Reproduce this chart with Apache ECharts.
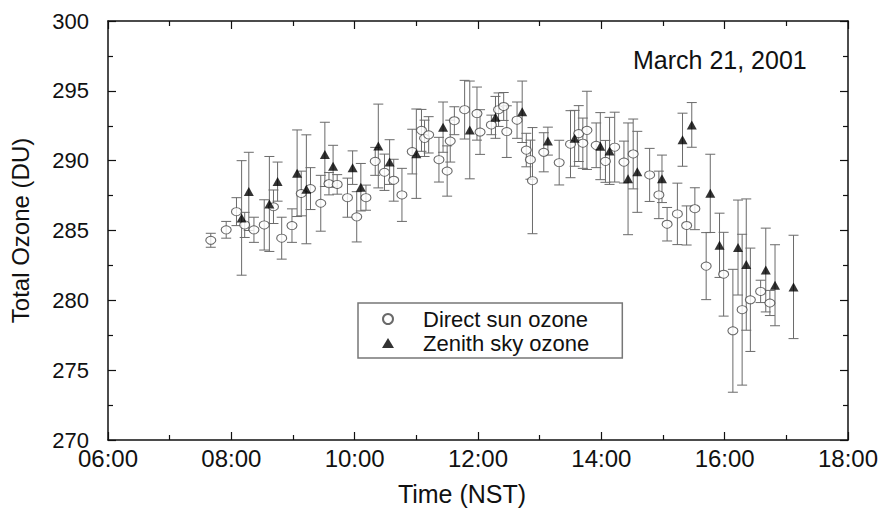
<!DOCTYPE html>
<html>
<head>
<meta charset="utf-8">
<script src="https://cdn.jsdelivr.net/npm/echarts@6/dist/echarts.min.js"></script>
<style>
html,body{margin:0;padding:0;background:#fff;}
#chart{width:884px;height:511px;}
</style>
</head>
<body>
<div id="chart"></div>
<script>
// Direct sun ozone (open circles)
const sunTime = ['07:40','07:55','08:05','08:13','08:22','08:32','08:41','08:49','08:59','09:08',
  '09:17','09:27','09:35','09:43','09:53','10:02','10:11','10:20','10:29','10:38',
  '10:46','10:56','11:05','11:08','11:12','11:22','11:30','11:33','11:37','11:47',
  '11:59','12:02','12:13','12:20','12:25','12:28','12:38','12:47','12:51','12:53',
  '13:04','13:19','13:30','13:38','13:42','13:46','13:55','14:04','14:13','14:22',
  '14:31','14:47','14:56','15:04','15:14','15:23','15:31','15:42','15:59','16:08',
  '16:17','16:25','16:35','16:44'];
const sunOzone = [284.3,285.05,286.35,285.4,285.05,285.4,286.7,284.45,285.35,287.65,
  288.0,286.95,288.35,288.3,287.35,285.98,287.35,289.95,289.17,288.6,
  287.55,290.65,292.17,291.6,291.85,290.07,289.26,291.4,292.86,293.65,
  293.37,292.05,292.56,293.65,293.88,292.08,292.9,290.76,290.07,288.57,
  290.6,289.86,291.18,291.94,291.25,292.17,291.1,289.95,290.97,289.9,
  290.48,288.98,287.55,285.45,286.19,285.36,286.56,282.45,281.87,277.82,
  279.33,280.04,280.64,279.81];
const sunErr = [0.5,0.6,1.0,0.9,0.9,1.8,1.2,1.5,1.2,1.6,
  1.5,2.0,0.8,0.7,1.4,1.8,0.9,1.0,1.3,1.5,
  1.9,1.6,1.5,1.3,1.3,1.6,1.8,1.5,1.0,2.1,
  1.9,1.6,0.7,1.2,1.0,1.85,1.3,1.2,1.4,3.8,
  1.4,1.6,2.4,2.0,1.8,2.8,1.6,1.5,2.5,1.5,
  2.5,1.9,1.7,1.2,2.2,1.4,1.5,2.4,3.0,4.4,
  5.4,3.7,0.8,0.9];

// Zenith sky ozone (filled triangles)
const zenTime = ['08:10','08:17','08:37','08:45','09:04','09:13','09:31','09:39','09:58','10:06',
  '10:23','10:34','11:00','11:26','11:52','12:17','12:43','13:08','13:34','13:59',
  '14:08','14:26','14:35','14:59','15:19','15:28','15:46','15:55','16:13','16:21',
  '16:40','16:49','17:07'];
const zenOzone = [285.9,287.8,286.9,288.5,289.1,287.95,290.45,289.6,289.5,288.1,
  291.05,289.9,290.5,292.4,292.2,293.1,293.5,291.4,291.6,291.04,
  290.7,288.7,289.2,288.7,291.5,292.56,287.66,283.94,283.78,282.56,
  282.17,281.08,280.96];
const zenErr = [4.1,2.8,3.4,1.4,3.1,3.9,2.3,1.5,1.2,1.7,
  3.0,1.6,3.2,1.8,3.5,1.5,2.2,1.0,2.0,2.4,
  2.4,4.0,2.9,1.7,1.9,1.6,2.8,2.3,3.4,4.7,
  3.0,2.9,3.7];

const xTicks = ['06:00','08:00','10:00','12:00','14:00','16:00','18:00'];
const yTicks = [270,275,280,285,290,295,300];

function toHour(s){const p=s.split(':').map(Number);return p[0]+p[1]/60;}
function pad(n){return (n<10?'0':'')+n;}

const sunPts = sunTime.map((t,i)=>[toHour(t), sunOzone[i]]);
const sunBars = sunTime.map((t,i)=>[toHour(t), sunOzone[i]-sunErr[i], sunOzone[i]+sunErr[i]]);
const zenPts = zenTime.map((t,i)=>[toHour(t), zenOzone[i]]);
const zenBars = zenTime.map((t,i)=>[toHour(t), zenOzone[i]-zenErr[i], zenOzone[i]+zenErr[i]]);

function errRender(params, api){
  const x = api.value(0), lo = api.value(1), hi = api.value(2);
  const a = api.coord([x, lo]), b = api.coord([x, hi]);
  const cw = 5;
  const st = {stroke:'#6a6a6a', lineWidth:1};
  return {type:'group', children:[
    {type:'line', shape:{x1:a[0],y1:a[1],x2:b[0],y2:b[1]}, style:st},
    {type:'line', shape:{x1:a[0]-cw,y1:a[1],x2:a[0]+cw,y2:a[1]}, style:st},
    {type:'line', shape:{x1:b[0]-cw,y1:b[1],x2:b[0]+cw,y2:b[1]}, style:st}
  ]};
}

const FONT = '"Liberation Sans", Arial, sans-serif';
const axisLine = {show:true, onZero:false, lineStyle:{color:'#111', width:1.5}};
const tick = {show:true, inside:true, length:8, lineStyle:{color:'#111', width:1.2}};
const minor = {show:true, splitNumber:2, length:5, lineStyle:{color:'#111', width:1.2}};

const xMin = toHour(xTicks[0]), xMax = toHour(xTicks[xTicks.length-1]);
const yMin = yTicks[0], yMax = yTicks[yTicks.length-1];

const chart = echarts.init(document.getElementById('chart'), null, {renderer:'svg'});
chart.setOption({
  backgroundColor:'#fff',
  animation:false,
  textStyle:{fontFamily:FONT},
  grid:{left:107, right:36, top:21, bottom:57, containLabel:false},
  xAxis:[
    {type:'value', position:'bottom', min:xMin, max:xMax, interval:2,
     axisLine:axisLine, axisTick:tick, minorTick:minor, splitLine:{show:false},
     axisLabel:{fontSize:24, color:'#111', margin:6, fontFamily:FONT,
       formatter:v=>pad(Math.round(v))+':00'},
     name:'Time (NST)', nameLocation:'middle', nameGap:41,
     nameTextStyle:{fontSize:25, color:'#111', fontFamily:FONT, padding:[0,32,0,0]}},
    {type:'value', position:'top', min:xMin, max:xMax, interval:2,
     axisLine:axisLine, axisTick:tick, minorTick:minor, splitLine:{show:false},
     axisLabel:{show:false}}
  ],
  yAxis:[
    {type:'value', position:'left', min:yMin, max:yMax, interval:5,
     axisLine:axisLine, axisTick:tick, minorTick:minor, splitLine:{show:false},
     axisLabel:{fontSize:22, color:'#111', margin:19, fontFamily:FONT},
     name:'Total Ozone (DU)', nameLocation:'middle', nameGap:76,
     nameTextStyle:{fontSize:24, color:'#111', fontFamily:FONT}},
    {type:'value', position:'right', min:yMin, max:yMax, interval:5,
     axisLine:axisLine, axisTick:tick, minorTick:minor, splitLine:{show:false},
     axisLabel:{show:false}}
  ],
  legend:{
    orient:'vertical', left:358, top:303,
    data:['Direct sun ozone','Zenith sky ozone'],
    borderColor:'#777', borderWidth:1.5, borderRadius:0,
    padding:[5,33,4,24], itemGap:2, itemWidth:12, itemHeight:10,
    textStyle:{fontSize:22, color:'#111', fontFamily:FONT, padding:[0,0,0,24]}
  },
  graphic:[{type:'text', left:633, top:47,
    style:{text:'March 21, 2001', font:'25px "Liberation Sans", Arial, sans-serif', fill:'#111'}}],
  series:[
    {type:'custom', name:'sun err', renderItem:errRender, data:sunBars, encode:{x:0,y:[1,2]}, z:1, silent:true},
    {type:'custom', name:'zen err', renderItem:errRender, data:zenBars, encode:{x:0,y:[1,2]}, z:1, silent:true},
    {type:'scatter', name:'Direct sun ozone', data:sunPts, symbol:'circle', symbolSize:[10,8], z:3,
     itemStyle:{color:'#fff', borderColor:'#444', borderWidth:1}},
    {type:'scatter', name:'Zenith sky ozone', data:zenPts, symbol:'triangle', symbolSize:[10,9], z:4,
     itemStyle:{color:'#000'}}
  ]
});
</script>
</body>
</html>
